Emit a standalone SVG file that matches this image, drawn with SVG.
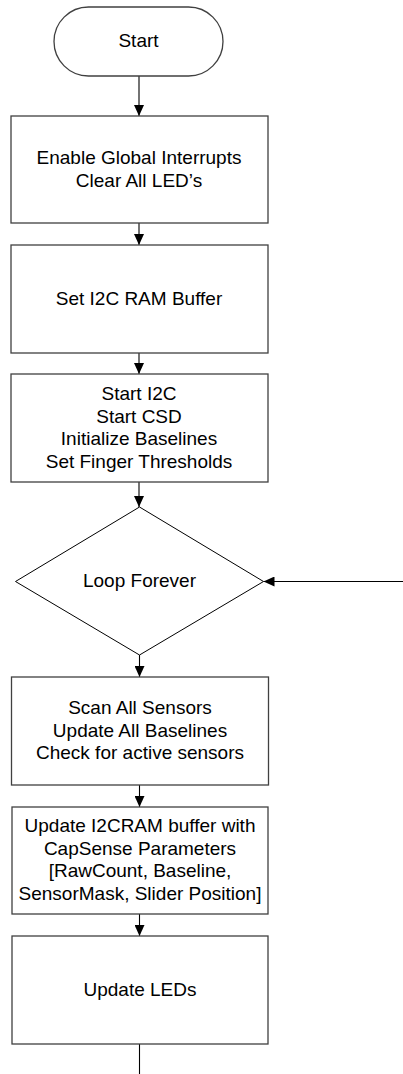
<svg xmlns="http://www.w3.org/2000/svg" width="403" height="1074" viewBox="0 0 403 1074">
<style>
.box{fill:#fff;stroke:#404040;stroke-width:1.3}
.dia{fill:#fff;stroke:#000;stroke-width:1}
.con{fill:none;stroke:#000;stroke-width:1.1}
text{font-family:"Liberation Sans",Arial,sans-serif;font-size:19px;fill:#000;text-anchor:middle}
</style>
<defs>
<marker id="ah" markerUnits="userSpaceOnUse" markerWidth="12" markerHeight="10" refX="11" refY="5" orient="auto">
<path d="M0,0 L11,5 L0,10 z" fill="#000"/>
</marker>
</defs>
<rect width="403" height="1074" fill="#fff"/>
<g id="connectors">
<line class="con" x1="139" y1="76" x2="139" y2="116" marker-end="url(#ah)"/>
<line class="con" x1="139" y1="223" x2="139" y2="245" marker-end="url(#ah)"/>
<line class="con" x1="139" y1="353" x2="139" y2="374" marker-end="url(#ah)"/>
<line class="con" x1="139" y1="482" x2="139" y2="507" marker-end="url(#ah)"/>
<line class="con" x1="139.5" y1="655" x2="139.5" y2="677" marker-end="url(#ah)"/>
<line class="con" x1="139.5" y1="785" x2="139.5" y2="807" marker-end="url(#ah)"/>
<line class="con" x1="139.5" y1="914" x2="139.5" y2="936" marker-end="url(#ah)"/>
<line class="con" x1="139.5" y1="1044" x2="139.5" y2="1074"/>
<line class="con" x1="403" y1="581.5" x2="263.5" y2="581.5" marker-end="url(#ah)"/>
</g>
<g id="start">
<rect class="box" x="54" y="7" width="169" height="69" rx="34.5"/>
<text x="138.5" y="47">Start</text>
</g>
<g id="box1">
<rect class="box" x="11" y="116" width="257" height="107"/>
<text x="139" y="164">Enable Global Interrupts</text>
<text x="139" y="186.5">Clear All LED’s</text>
</g>
<g id="box2">
<rect class="box" x="11" y="245" width="257" height="108"/>
<text x="139" y="305">Set I2C RAM Buffer</text>
</g>
<g id="box3">
<rect class="box" x="11" y="374" width="257" height="108"/>
<text x="139" y="400">Start I2C</text>
<text x="139" y="422.5">Start CSD</text>
<text x="139" y="445">Initialize Baselines</text>
<text x="139" y="467.5">Set Finger Thresholds</text>
</g>
<g id="loop">
<polygon class="dia" points="139.5,507 263.5,581.5 139.5,655 15.5,581.5"/>
<text x="139.5" y="587">Loop Forever</text>
</g>
<g id="box4">
<rect class="box" x="11.5" y="677" width="257" height="108"/>
<text x="140" y="714">Scan All Sensors</text>
<text x="140" y="736.5">Update All Baselines</text>
<text x="140" y="759">Check for active sensors</text>
</g>
<g id="box5">
<rect class="box" x="12" y="807" width="256" height="107"/>
<text x="140" y="832">Update I2CRAM buffer with</text>
<text x="140" y="854.5">CapSense Parameters</text>
<text x="140" y="877">[RawCount, Baseline,</text>
<text x="140" y="899.5">SensorMask, Slider Position]</text>
</g>
<g id="box6">
<rect class="box" x="12" y="936" width="256" height="108"/>
<text x="140" y="996">Update LEDs</text>
</g>
</svg>
